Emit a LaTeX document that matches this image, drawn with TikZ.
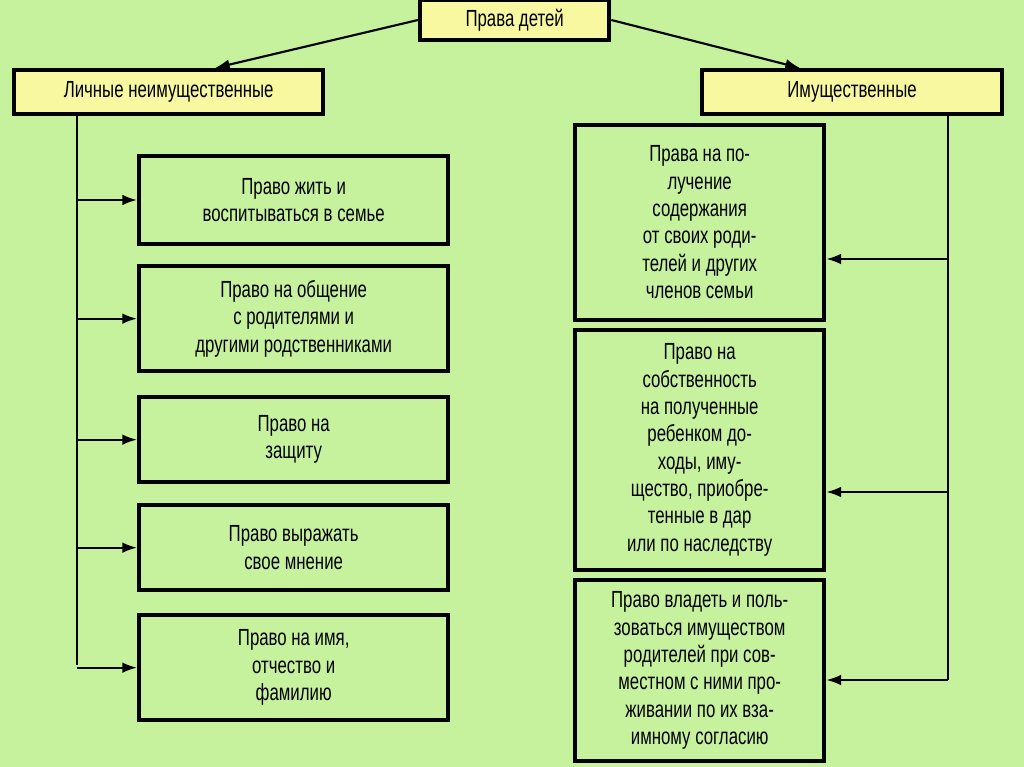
\documentclass[tikz,border=0pt]{standalone}
\usepackage{fontspec}
\setmainfont{Liberation Sans}[FakeStretch=0.72]
\usetikzlibrary{arrows.meta}
\definecolor{bg}{HTML}{C6F29E}
\definecolor{yel}{HTML}{F8F8A0}
\begin{document}
\begin{tikzpicture}[x=0.75pt,y=-0.75pt,
 box/.style={draw=black,line width=3pt,fill=bg,align=center,font=\fontsize{17.5}{20.5}\selectfont,inner sep=2pt,anchor=north west},
 hdr/.style={box,fill=yel},
 con/.style={line width=1.6pt,-{Latex[length=11pt,width=8pt]}},
 ln/.style={line width=1.6pt}]
\fill[bg] (0,0) rectangle (1024,767);
\useasboundingbox (0,0) rectangle (1024,767);
\node[hdr,minimum width=142pt,minimum height=30pt] (top) at (418,-2) {Права детей};
\node[hdr,minimum width=232pt,minimum height=33pt] (L) at (12,68) {Личные неимущественные};
\node[hdr,minimum width=225pt,minimum height=33pt] (R) at (700,68) {Имущественные};
\draw[con] (top.west) -- (215,68);
\draw[con] (top.east) -- (800,68);
% left
\tikzset{lb/.style={box,minimum width=232pt}}
\node[lb,minimum height=66pt] (l1) at (137,154) {Право жить и\\воспитываться в семье};
\node[lb,minimum height=79pt] (l2) at (137,264) {Право на общение\\с родителями и\\другими родственниками};
\node[lb,minimum height=64pt] (l3) at (137,395) {Право на\\защиту};
\node[lb,minimum height=64pt] (l4) at (137,503) {Право выражать\\свое мнение};
\node[lb,minimum height=79pt] (l5) at (137,613) {Право на имя,\\отчество и\\фамилию};
\coordinate (lt) at (77,112);
\coordinate (lb) at (77,665);
\draw[ln] (lt) -- (lb);
\foreach \n in {l1,l2,l3,l4,l5} \draw[con] (lt |- \n.west) -- (\n.west);
% right
\tikzset{rb/.style={box,minimum width=187pt}}
\node[rb,minimum height=146pt] (r1) at (573,123) {Права на по-\\лучение\\содержания\\от своих роди-\\телей и других\\членов семьи};
\node[rb,minimum height=180pt] (r2) at (573,328) {Право на\\собственность\\на полученные\\ребенком до-\\ходы, иму-\\щество, приобре-\\тенные в дар\\или по наследству};
\node[rb,minimum height=136pt] (r3) at (573,578) {Право владеть и поль-\\зоваться имуществом\\родителей при сов-\\местном с ними про-\\живании по их вза-\\имному согласию};
\coordinate (rt) at (948,112);
\coordinate (rbt) at (948,680);
\draw[ln] (rt) -- (rbt);
\draw[con] (rt |- 0,259) -- (r1.east |- 0,259);
\draw[con] (rt |- 0,492) -- (r2.east |- 0,492);
\draw[con] (rt |- 0,680) -- (r3.east |- 0,680);
\end{tikzpicture}
\end{document}
